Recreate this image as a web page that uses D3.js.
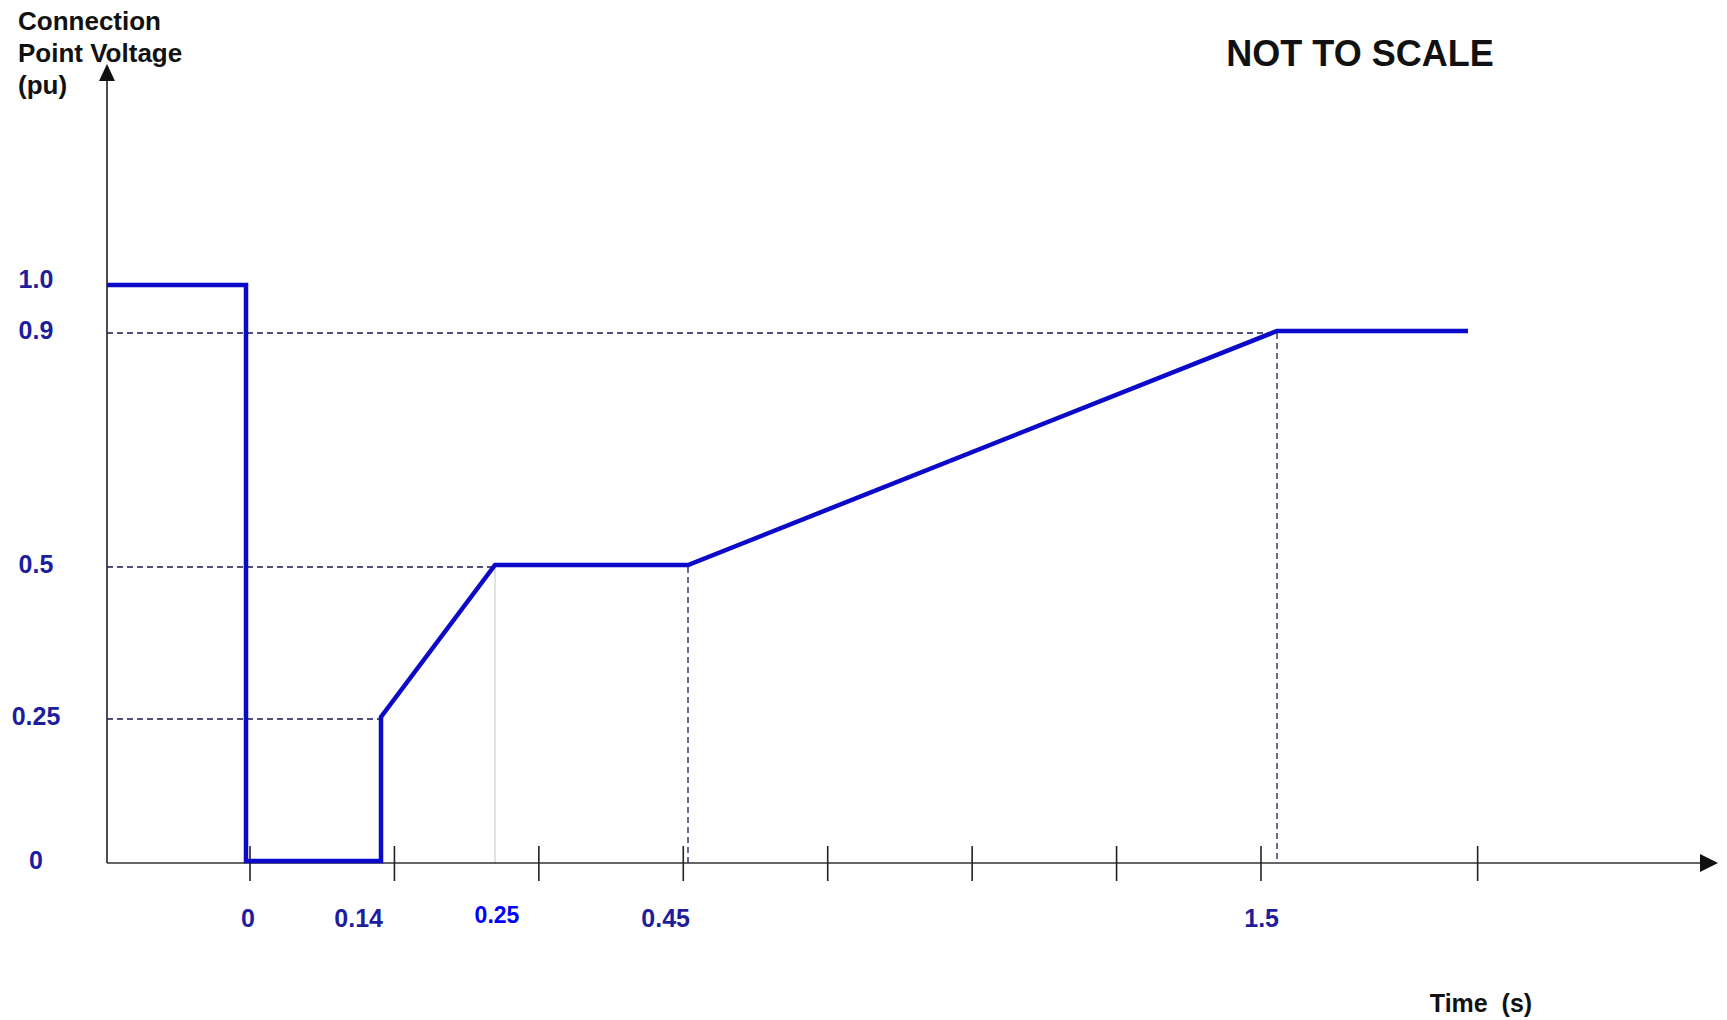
<!DOCTYPE html>
<html>
<head>
<meta charset="utf-8">
<script src="https://cdn.jsdelivr.net/npm/d3@7"></script>
<style>
    body { margin: 0; background: #fff; }
    text { font-family: "Liberation Sans", Arial, sans-serif; font-weight: bold; }
</style>
</head>
<body>
<div id="chart"></div>
<script>
// voltage profile (time in s, voltage in pu)
var profileTime = [-0.2, 0, 0, 0.14, 0.14, 0.25, 0.45, 1.5, 2.5];
var profileVoltage = [1.0, 1.0, 0, 0, 0.25, 0.5, 0.5, 0.9, 0.9];

var yTickValues = [0, 0.25, 0.5, 0.9, 1.0];
var yTickLabels = ["0", "0.25", "0.5", "0.9", "1.0"];

var xTickTimes = [0, 0.14, 0.25, 0.45, 1.5];
var xTickLabels = ["0", "0.14", "0.25", "0.45", "1.5"];

// unlabelled tick marks along the time axis (evenly spaced slots)
var tickSlots = [0, 1, 2, 3, 4, 5, 6, 7, 8.5];

// dashed guides back to the axes
var hGuideTimes = [0.14, 0.25, 1.5];
var hGuideVolts = [0.25, 0.5, 0.9];
var vGuideTimes = [0.25, 0.45, 1.5];
var vGuideVolts = [0.5, 0.5, 0.9];

function chart() {
    var width = 1727,
        height = 1020,
        axisX = 107,
        axisY = 863;

    // "not to scale": piecewise scales
    var x = d3.scaleLinear()
        .domain([-0.2, 0, 0.14, 0.25, 0.45, 1.5, 2.5])
        .range([axisX, 246, 381, 495, 688, 1277, 1468]);

    var y = d3.scaleLinear()
        .domain([0, 0.25, 0.5, 0.9, 1.0])
        .range([axisY, 719, 567, 333, 287]);

    var slot = d3.scaleLinear().domain([0, 7]).range([250, 1261]);

    var svg = d3.select("#chart").append("svg")
        .attr("width", width)
        .attr("height", height);

    var navy = "#1e1e9c";

    // guides
    svg.append("g").attr("class", "hguides")
        .selectAll("line")
        .data(hGuideTimes)
        .enter().append("line")
        .attr("x1", axisX)
        .attr("x2", d => x(d))
        .attr("y1", (d, i) => y(hGuideVolts[i]))
        .attr("y2", (d, i) => y(hGuideVolts[i]))
        .style("stroke", "#1a1a50")
        .style("stroke-width", 1.3)
        .style("stroke-dasharray", "6,4");

    svg.append("g").attr("class", "vguides")
        .selectAll("line")
        .data(vGuideTimes)
        .enter().append("line")
        .attr("x1", d => x(d))
        .attr("x2", d => x(d))
        .attr("y1", (d, i) => y(vGuideVolts[i]))
        .attr("y2", axisY)
        .style("stroke", (d, i) => i == 0 ? "#c4c4c4" : "#1a1a50")
        .style("stroke-width", (d, i) => i == 0 ? 1 : 1.3)
        .style("stroke-dasharray", (d, i) => i == 0 ? null : "6,4");

    // axes
    var axes = svg.append("g").attr("class", "axis");
    axes.append("line")
        .attr("x1", axisX).attr("x2", 1702)
        .attr("y1", axisY).attr("y2", axisY)
        .style("stroke", "#333").style("stroke-width", 1.6);
    axes.append("path")
        .attr("d", "M1718," + axisY + "L1700," + (axisY - 9) + "L1700," + (axisY + 9) + "Z")
        .style("fill", "#111");
    axes.append("line")
        .attr("x1", axisX).attr("x2", axisX)
        .attr("y1", 80).attr("y2", axisY)
        .style("stroke", "#222").style("stroke-width", 1.6);
    axes.append("path")
        .attr("d", "M" + axisX + ",64L" + (axisX - 8) + ",81L" + (axisX + 8) + ",81Z")
        .style("fill", "#111");

    axes.selectAll(".tickmark")
        .data(tickSlots)
        .enter().append("line")
        .attr("class", "tickmark")
        .attr("x1", d => slot(d))
        .attr("x2", d => slot(d))
        .attr("y1", axisY - 17)
        .attr("y2", axisY + 18)
        .style("stroke", "#222")
        .style("stroke-width", 1.6);

    // voltage profile
    var line = d3.line()
        .x(d => x(d[0]))
        .y(d => y(d[1]));

    svg.append("path")
        .datum(profileTime.map((t, i) => [t, profileVoltage[i]]))
        .attr("d", line)
        .attr("transform", "translate(0,-2)")
        .style("fill", "none")
        .style("stroke", "#0a0ac8")
        .style("stroke-width", 4.5)
        .style("stroke-linejoin", "miter");

    // y tick labels
    svg.append("g").selectAll("text")
        .data(yTickValues)
        .enter().append("text")
        .attr("x", 36)
        .attr("y", d => y(d) + (d == 1 ? 1 : 6))
        .style("text-anchor", "middle")
        .style("font-size", "25px")
        .style("fill", navy)
        .text((d, i) => yTickLabels[i]);

    // x tick labels
    var centred = ["0", "0.25"];
    svg.append("g").selectAll("text")
        .data(xTickTimes)
        .enter().append("text")
        .attr("x", (d, i) => centred.includes(xTickLabels[i]) ? x(d) + 2 : x(d) + 2)
        .attr("y", (d, i) => xTickLabels[i] == "0.25" ? 923 : 927)
        .style("text-anchor", (d, i) => centred.includes(xTickLabels[i]) ? "middle" : "end")
        .style("font-size", (d, i) => xTickLabels[i] == "0.25" ? "23px" : "25px")
        .style("fill", (d, i) => xTickLabels[i] == "0.25" ? "#0000ff" : navy)
        .text((d, i) => xTickLabels[i]);

    // titles
    var ytitle = svg.append("text")
        .attr("x", 18)
        .style("font-size", "26px")
        .style("fill", "#111");
    ["Connection", "Point Voltage", "(pu)"].forEach((s, i) => {
        ytitle.append("tspan").attr("x", 18).attr("y", 30 + i * 32).text(s);
    });

    svg.append("text")
        .attr("x", 1481)
        .attr("y", 1012)
        .style("text-anchor", "middle")
        .style("font-size", "25px")
        .style("white-space", "pre")
        .style("fill", "#111")
        .text("Time  (s)");

    svg.append("text")
        .attr("x", 1360)
        .attr("y", 66)
        .style("text-anchor", "middle")
        .style("font-size", "36px")
        .style("fill", "#111")
        .text("NOT TO SCALE");
}

chart();
</script>
</body>
</html>
